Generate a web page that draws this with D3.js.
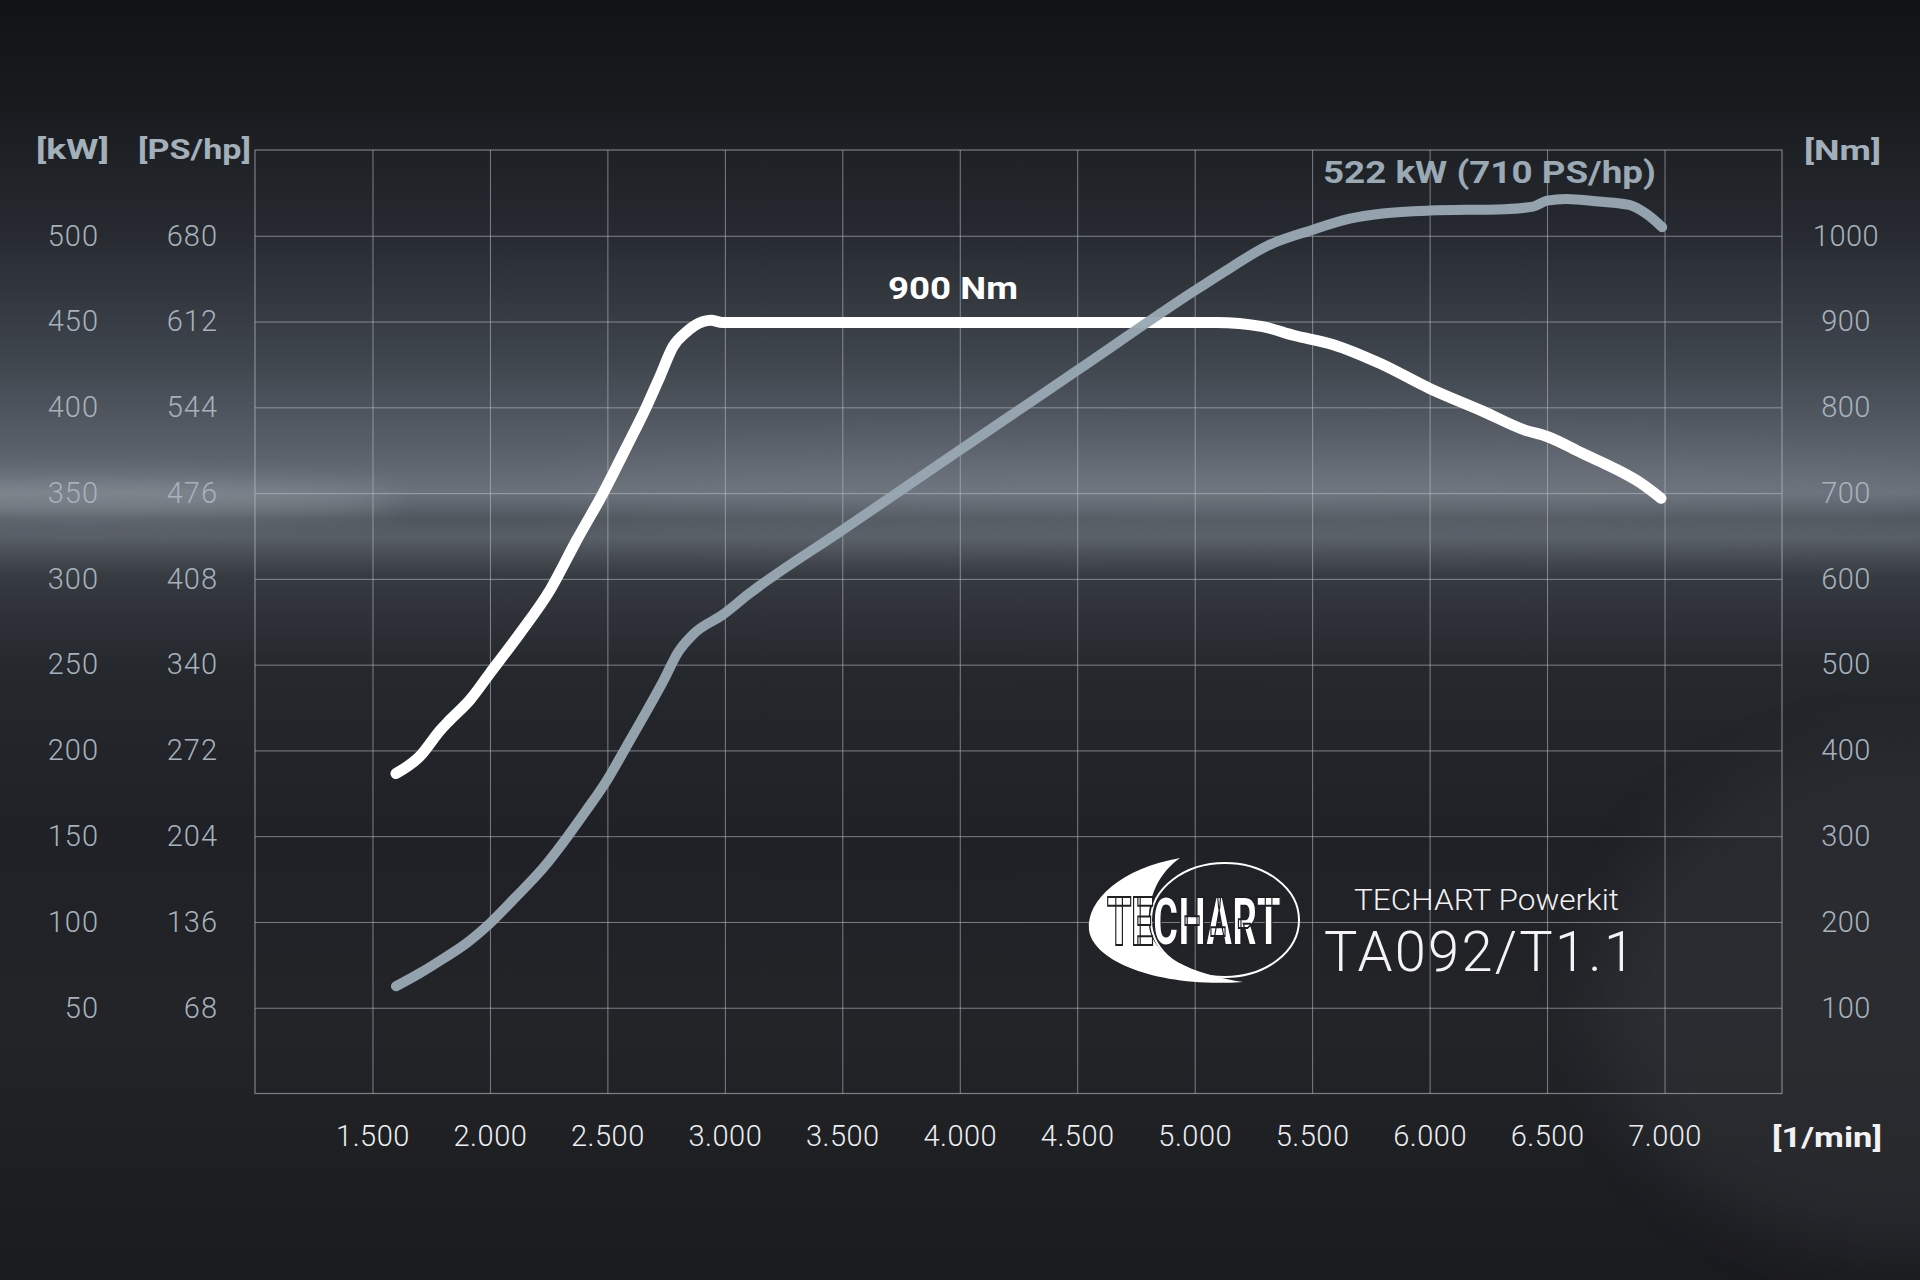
<!DOCTYPE html>
<html>
<head>
<meta charset="utf-8">
<script src="https://cdn.jsdelivr.net/npm/d3@7/dist/d3.min.js"></script>
<style>
  html, body { margin: 0; padding: 0; background: #15171b; }
  svg { display: block; }
</style>
</head>
<body>
<svg id="chart" width="1920" height="1280"></svg>
<script>
// ---------- data ----------
const rpmTicks = [1500, 2000, 2500, 3000, 3500, 4000, 4500, 5000, 5500, 6000, 6500, 7000];
const kwTicks = [50, 100, 150, 200, 250, 300, 350, 400, 450, 500];
const psFactor = 1.36;
const nmTicks = [100, 200, 300, 400, 500, 600, 700, 800, 900, 1000];

const torqueRpm = [1600, 1700, 1790, 1830, 1915, 2000, 2128, 2256, 2369, 2482, 2582, 2667, 2724, 2780, 2837, 2908, 2940, 2990, 3500, 4000, 4500, 5000, 5090, 5290, 5420, 5590, 5790, 6000, 6230, 6400, 6500, 6650, 6800, 6900, 6985];
const torqueNm  = [373, 392.7, 424, 435.6, 459, 490, 536.6, 587, 645, 700, 754, 801, 836, 871, 888, 900, 901.5, 899, 899, 899, 899, 899, 899, 894, 884, 873, 851, 822, 795, 774, 766, 746.5, 727, 711.5, 694];

const powerRpm = [1600, 1700, 1800, 1900, 2000, 2110, 2230, 2330, 2410, 2500, 2580, 2670, 2740, 2800, 2870, 2990, 3100, 3500, 4000, 4500, 5000, 5160, 5300, 5500, 5660, 5800, 6000, 6320, 6440, 6500, 6580, 6720, 6850, 6920, 6990];
const powerKw  = [62.5, 70, 78.5, 87.6, 99.2, 114.5, 132, 149.7, 165, 183, 202, 223.6, 241, 257, 268.3, 279, 291, 328.4, 375, 421.5, 468, 482, 493.5, 503.4, 510, 513, 514.7, 515.5, 517, 520.5, 521.5, 520, 518, 513, 505];

const peakLabel = "522 kW (710 PS/hp)";
const torqueLabel = "900 Nm";

// ---------- layout ----------
const L = 255, R = 1782, T = 150, B = 1093.5;
const svg = d3.select("#chart");

const x = d3.scaleLinear().domain([1000, 7500]).range([L, R]);
const yKw = d3.scaleLinear().domain([0, 550]).range([B, T]);
const yNm = d3.scaleLinear().domain([0, 1100]).range([B, T]);

const deFmt = d3.formatLocale({decimal: ",", thousands: ".", grouping: [3], currency: ["", "€"]}).format(",d");

// ---------- background ----------
const defs = svg.append("defs");
const bg = defs.append("linearGradient").attr("id", "bg").attr("x1", 0).attr("y1", 0).attr("x2", 0).attr("y2", 1);
[[0, "#121317"], [0.08, "#181a1e"], [0.18, "#262a30"], [0.28, "#3f454d"], [0.355, "#5b626b"],
 [0.385, "#6a717a"], [0.405, "#50565e"], [0.42, "#585e66"], [0.45, "#363a41"], [0.52, "#25282d"],
 [0.65, "#1f2126"], [0.8, "#222428"], [1, "#1a1b1f"]].forEach(s => bg.append("stop").attr("offset", s[0]).attr("stop-color", s[1]));
defs.append("filter").attr("id", "blur1").attr("x", "-50%").attr("y", "-200%").attr("width", "200%").attr("height", "500%")
  .append("feGaussianBlur").attr("stdDeviation", 14);
defs.append("filter").attr("id", "blur2").attr("x", "-50%").attr("y", "-200%").attr("width", "200%").attr("height", "500%")
  .append("feGaussianBlur").attr("stdDeviation", 30);

svg.append("rect").attr("width", 1920).attr("height", 1280).attr("fill", "url(#bg)");
svg.append("ellipse").attr("cx", 80).attr("cy", 500).attr("rx", 320).attr("ry", 16).attr("fill", "#9aa1a8").attr("opacity", 0.55).attr("filter", "url(#blur1)");
svg.append("ellipse").attr("cx", 1250).attr("cy", 490).attr("rx", 700).attr("ry", 30).attr("fill", "#7e858d").attr("opacity", 0.35).attr("filter", "url(#blur2)");
svg.append("ellipse").attr("cx", 1900).attr("cy", 1000).attr("rx", 300).attr("ry", 250).attr("fill", "#3a3d42").attr("opacity", 0.35).attr("filter", "url(#blur2)");

// ---------- grid ----------
const gridColor = "#b9bec4";
const gx = svg.append("g").attr("transform", `translate(0,${B})`)
  .call(d3.axisBottom(x).tickValues(rpmTicks).tickSize(-(B - T)).tickFormat(""));
gx.select(".domain").remove();
gx.selectAll("line").attr("stroke", gridColor).attr("stroke-opacity", 0.6).attr("stroke-width", 1);

const gy = svg.append("g").attr("transform", `translate(${L},0)`)
  .call(d3.axisLeft(yKw).tickValues(kwTicks).tickSize(-(R - L)).tickFormat(""));
gy.select(".domain").remove();
gy.selectAll("line").attr("stroke", gridColor).attr("stroke-opacity", 0.6).attr("stroke-width", 1);

svg.append("rect").attr("x", L).attr("y", T).attr("width", R - L).attr("height", B - T)
  .attr("fill", "none").attr("stroke", gridColor).attr("stroke-opacity", 0.6).attr("stroke-width", 1.2);

// ---------- tick labels ----------
const tickFont = "Roboto, 'Noto Sans', sans-serif";
const axisGrey = "#a6b2bc";

const ax = svg.append("g").attr("transform", `translate(0,${B})`)
  .call(d3.axisBottom(x).tickValues(rpmTicks).tickSize(0).tickPadding(32).tickFormat(deFmt));
ax.select(".domain").remove();
ax.selectAll("text").attr("font-family", tickFont).attr("font-weight", 300).attr("font-size", 29)
  .attr("fill", "#eceef0").attr("letter-spacing", 0.5);

const akw = svg.append("g").attr("transform", "translate(99,0)")
  .call(d3.axisLeft(yKw).tickValues(kwTicks).tickSize(0).tickPadding(0).tickFormat(d3.format("d")));
akw.select(".domain").remove();
akw.selectAll("text").attr("font-family", tickFont).attr("font-weight", 300).attr("font-size", 29)
  .attr("fill", axisGrey).attr("letter-spacing", 1);

const aps = svg.append("g").attr("transform", "translate(218,0)")
  .call(d3.axisLeft(yKw).tickValues(kwTicks).tickSize(0).tickPadding(0).tickFormat(d => Math.round(d * psFactor)));
aps.select(".domain").remove();
aps.selectAll("text").attr("font-family", tickFont).attr("font-weight", 300).attr("font-size", 29)
  .attr("fill", axisGrey).attr("letter-spacing", 1);

const anm = svg.append("g").attr("transform", "translate(1846,0)")
  .call(d3.axisRight(yNm).tickValues(nmTicks).tickSize(0).tickPadding(0).tickFormat(d3.format("d")));
anm.select(".domain").remove();
anm.selectAll("text").attr("font-family", tickFont).attr("font-weight", 300).attr("font-size", 29)
  .attr("fill", axisGrey).attr("text-anchor", "middle").attr("letter-spacing", 0.5);

// ---------- helper: text fitted to a width by a horizontal scale ----------
function fitText(txt, x0, x1, baseline, size, weight, color, family) {
  const g = svg.append("g").attr("transform", `translate(${x0},${baseline})`);
  const t = g.append("text").attr("x", 0).attr("y", 0).text(txt)
    .attr("font-family", family || "Roboto, 'DejaVu Sans', sans-serif").attr("font-weight", weight)
    .attr("font-size", size).attr("fill", color);
  const w = t.node().getComputedTextLength();
  if (w > 0) g.attr("transform", `translate(${x0},${baseline}) scale(${(x1 - x0) / w},1)`);
  return t;
}

fitText("[kW]", 36, 109, 159, 28, 700, "#a3b0ba");
fitText("[PS/hp]", 138, 251, 159, 28, 700, "#a3b0ba");
fitText("[Nm]", 1804, 1881, 160, 28, 700, "#a3b0ba");
fitText("[1/min]", 1772, 1882, 1147, 28, 700, "#f2f2f2");

// ---------- curves ----------
const torqueData = torqueRpm.map((r, i) => ({r, v: torqueNm[i]}));
const powerData = powerRpm.map((r, i) => ({r, v: powerKw[i]}));

svg.append("path").datum(torqueData)
  .attr("d", d3.line().x(d => x(d.r)).y(d => yNm(d.v)).curve(d3.curveMonotoneX))
  .attr("fill", "none").attr("stroke", "#ffffff").attr("stroke-width", 11)
  .attr("stroke-linecap", "round").attr("stroke-linejoin", "round");

svg.append("path").datum(powerData)
  .attr("d", d3.line().x(d => x(d.r)).y(d => yKw(d.v)).curve(d3.curveMonotoneX))
  .attr("fill", "none").attr("stroke", "#98a8b2").attr("stroke-width", 10).attr("stroke-opacity", 0.96)
  .attr("stroke-linecap", "round").attr("stroke-linejoin", "round");

// ---------- annotations ----------
fitText(peakLabel, 1323, 1656, 183, 32, 700, "#9aa9b3");
fitText(torqueLabel, 888, 1018, 299, 31, 700, "#ffffff");

// ---------- logo ----------
const logo = svg.append("g");
logo.append("ellipse").attr("cx", 1225).attr("cy", 920).attr("rx", 74).attr("ry", 57)
  .attr("fill", "none").attr("stroke", "#ffffff").attr("stroke-width", 2);
logo.append("path")
  .attr("d", "M1180,858 C1122,868 1086,900 1089,930 C1093,962 1160,988 1243,982 C1192,974 1152,956 1149,926 C1147,896 1160,872 1180,858 Z")
  .attr("fill", "#ffffff");
fitText("TECHART", 1107, 1281, 945, 66, 900, "#ffffff")
  .attr("stroke", "#1d1f23").attr("stroke-width", 2);

fitText("TECHART Powerkit", 1354, 1619, 910, 30, 300, "#f2f2f2");
svg.append("text").attr("x", 1324).attr("y", 971).text("TA092/T1.1")
  .attr("font-family", "Roboto, 'Liberation Sans', sans-serif").attr("font-weight", 300).attr("font-size", 56)
  .attr("fill", "#f4f4f4").attr("textLength", 311).attr("lengthAdjust", "spacing");
</script>
</body>
</html>
